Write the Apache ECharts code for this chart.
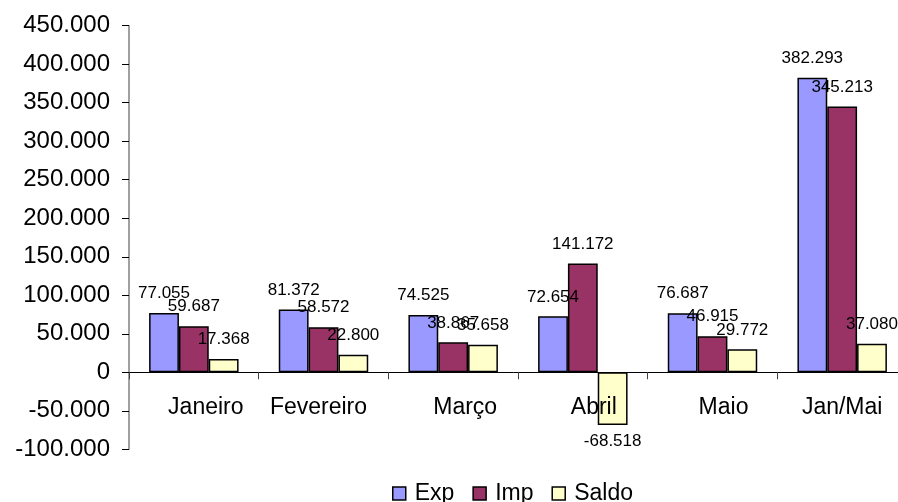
<!DOCTYPE html>
<html>
<head>
<meta charset="utf-8">
<script src="https://cdn.jsdelivr.net/npm/echarts@6.0.0/dist/echarts.min.js"></script>
<style>
  html, body { margin: 0; padding: 0; background: #ffffff; }
  #chart { width: 898px; height: 502px; }
</style>
</head>
<body>
<div id="chart"></div>
<script>
// Categories and series values
const categories = ['Janeiro', 'Fevereiro', 'Março', 'Abril', 'Maio', 'Jan/Mai'];
const expValues = [77055, 81372, 74525, 72654, 76687, 382293];
const impValues = [59687, 58572, 38867, 141172, 46915, 345213];
const saldoValues = [17368, 22800, 35658, -68518, 29772, 37080];
const seriesNames = ['Exp', 'Imp', 'Saldo'];

// Axis range (value axis ticks every 50.000)
const yMin = -100000;
const yMax = 450000;
const yStep = 50000;

// Horizontal nudges for the category labels (px)
const labelShift = [12, -5, 12, 11, 11, 0];

const FONT = '"Liberation Sans", Arial, sans-serif';

// Brazilian-style thousands separator
function fmt(v) {
  const s = Math.abs(v).toString().replace(/\B(?=(\d{3})+(?!\d))/g, '.');
  return (v < 0 ? '-' : '') + s;
}

const rich = {};
labelShift.forEach((d, i) => {
  rich['c' + i] = {
    fontFamily: FONT, fontSize: 23, color: '#000',
    padding: d >= 0 ? [0, 0, 0, 2 * d] : [0, -2 * d, 0, 0]
  };
});

const barLabel = {
  show: true, position: 'top', distance: 11,
  fontFamily: FONT, fontSize: 17, color: '#000',
  formatter: p => fmt(p.value)
};

const barStyle = (color) => ({ color: color, borderColor: '#000', borderWidth: 1.5 });

function withNegLabels(arr) {
  return arr.map(v => v < 0 ? { value: v, label: { position: 'bottom', distance: 8 } } : v);
}

const chart = echarts.init(document.getElementById('chart'), null, { renderer: 'canvas' });
chart.setOption({
  animation: false,
  backgroundColor: '#ffffff',
  grid: { left: 129, right: -9, top: 25.7, bottom: 52.7, containLabel: false, outerBoundsMode: 'none' },
  legend: {
    data: seriesNames,
    left: 387, top: 477,
    itemWidth: 13, itemHeight: 13, itemGap: 18,
    icon: 'rect',
    textStyle: { fontFamily: FONT, fontSize: 23, color: '#000', padding: [0, 0, 0, 4] },
    itemStyle: { borderColor: '#000', borderWidth: 1.5 }
  },
  xAxis: {
    type: 'category',
    data: categories,
    z: 5,
    axisLine: { onZero: true, lineStyle: { color: '#000', width: 1 } },
    axisTick: { show: true, length: 7, lineStyle: { color: '#444' } },
    axisLabel: {
      margin: -53, interval: 0,
      formatter: (v, i) => '{c' + i + '|' + v + '}',
      rich: rich
    },
    splitLine: { show: false }
  },
  yAxis: {
    type: 'value',
    min: yMin, max: yMax, interval: yStep,
    axisLine: { show: true, lineStyle: { color: '#808080', width: 1.5 } },
    axisTick: { show: true, length: 7, lineStyle: { color: '#000' } },
    axisLabel: { margin: 19, fontFamily: FONT, fontSize: 24, color: '#000', formatter: v => fmt(v) },
    splitLine: { show: false }
  },
  series: [
    { name: 'Exp', type: 'bar', data: expValues, barWidth: '23%', barGap: '0%',
      itemStyle: barStyle('#9999FF'), label: barLabel },
    { name: 'Imp', type: 'bar', data: impValues, barWidth: '23%', barGap: '0%',
      itemStyle: barStyle('#993366'), label: barLabel },
    { name: 'Saldo', type: 'bar', data: withNegLabels(saldoValues), barWidth: '23%', barGap: '0%',
      itemStyle: barStyle('#FFFFCC'), label: barLabel }
  ]
});
</script>
</body>
</html>
